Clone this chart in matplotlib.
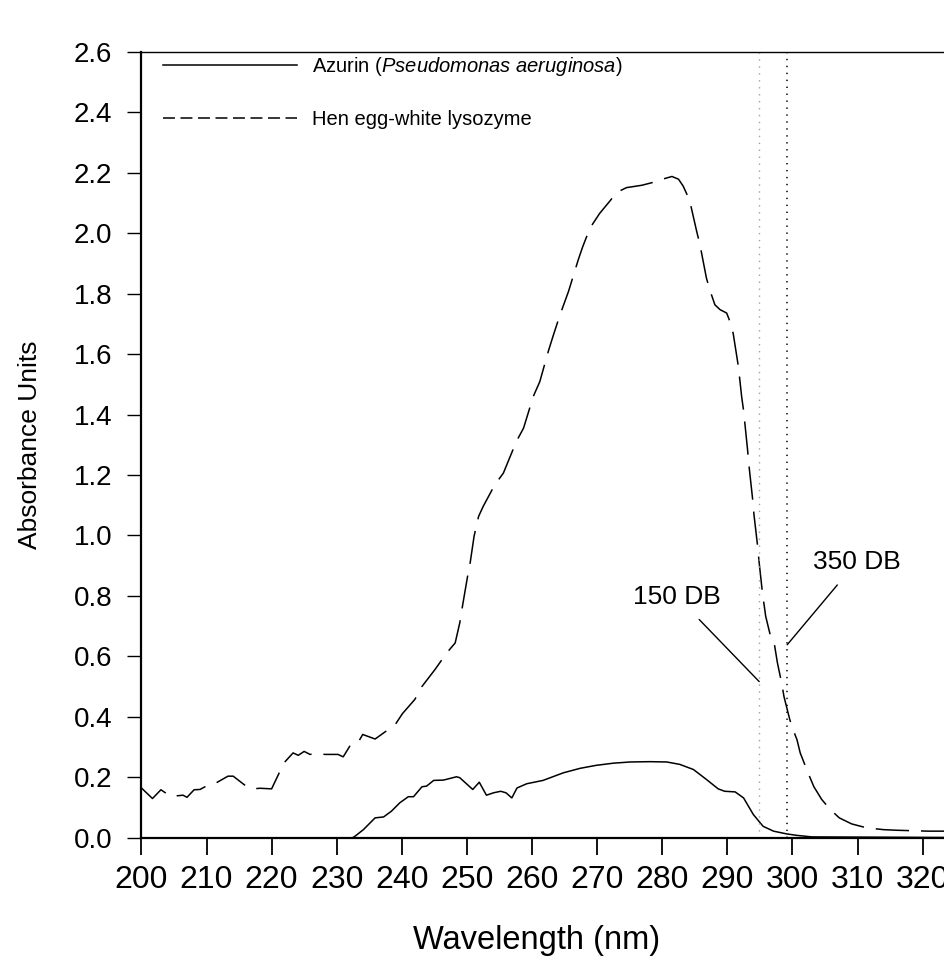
import matplotlib
matplotlib.use("Agg")
import matplotlib.pyplot as plt
from matplotlib.lines import Line2D
from matplotlib import font_manager

plt.rcParams['font.family'] = ['Liberation Sans', 'DejaVu Sans']
plt.rcParams['lines.scale_dashes'] = False

available = {f.name for f in font_manager.fontManager.ttflist}
narrow = 'Liberation Sans Narrow' if 'Liberation Sans Narrow' in available else 'Liberation Sans'
plt.rcParams['mathtext.fontset'] = 'custom'
plt.rcParams['mathtext.rm'] = narrow
plt.rcParams['mathtext.it'] = narrow + ':italic'

# ---- data ----
lys_wl = [200.0, 201.7, 203.0, 204.5, 206.4, 207.0, 208.1, 209.0, 210.3, 211.5, 213.3, 214.1,
          216.2, 217.2, 218.2, 220.0, 221.9, 223.3, 224.1, 225.0, 225.9, 226.9, 228.2, 230.2,
          231.0, 232.0, 233.1, 234.0, 235.9, 237.2, 239.0, 240.1, 242.0, 243.1, 245.1, 246.9,
          248.2, 248.9, 249.4, 250.1, 250.5, 251.1, 251.8, 252.5, 254.3, 255.6, 257.6, 258.7,
          260.2, 261.2, 262.5, 263.3, 264.3, 265.6, 267.1, 267.8, 268.9, 270.4, 271.9, 273.0,
          274.5, 276.9, 278.7, 280.2, 281.5, 282.5, 283.2, 284.2, 285.3, 285.8, 286.8, 287.4,
          288.1, 288.9, 289.9, 290.3, 290.9, 291.7, 292.2, 292.5, 293.1, 293.4, 293.9, 294.1,
          294.6, 294.9, 295.4, 295.9, 296.7, 297.2, 297.7, 298.4, 298.7, 299.6, 300.1, 300.7,
          301.2, 302.4, 303.3, 304.5, 305.8, 307.2, 309.1, 311.4, 314.0, 316.0, 320.9, 323.4]
lys_abs = [0.164, 0.129, 0.158, 0.136, 0.140, 0.133, 0.158, 0.159, 0.174, 0.181, 0.203, 0.203,
           0.168, 0.161, 0.163, 0.161, 0.247, 0.280, 0.272, 0.285, 0.275, 0.278, 0.275, 0.275,
           0.267, 0.302, 0.308, 0.341, 0.326, 0.346, 0.374, 0.410, 0.457, 0.500, 0.556, 0.611,
           0.644, 0.710, 0.776, 0.864, 0.909, 0.997, 1.063, 1.096, 1.168, 1.206, 1.311, 1.355,
           1.460, 1.509, 1.609, 1.664, 1.730, 1.807, 1.912, 1.956, 2.017, 2.066, 2.105, 2.135,
           2.151, 2.159, 2.169, 2.180, 2.188, 2.179, 2.157, 2.110, 2.006, 1.962, 1.851, 1.807,
           1.763, 1.747, 1.736, 1.714, 1.669, 1.559, 1.460, 1.413, 1.286, 1.217, 1.118, 1.068,
           0.975, 0.909, 0.809, 0.732, 0.661, 0.644, 0.578, 0.506, 0.467, 0.390, 0.357, 0.324,
           0.280, 0.214, 0.168, 0.126, 0.093, 0.065, 0.045, 0.032, 0.026, 0.024, 0.021, 0.021]

azu_wl = [232.5, 232.8, 234.1, 235.9, 237.2, 238.4, 239.7, 241.0, 241.8, 243.1, 243.8, 244.9,
          246.4, 248.4, 248.9, 250.9, 251.9, 253.0, 254.1, 255.2, 256.0, 256.9, 257.7, 259.2,
          261.7, 264.8, 267.4, 269.9, 272.5, 275.1, 278.1, 280.7, 282.7, 284.8, 286.8, 288.6,
          289.6, 291.2, 292.5, 294.0, 295.5, 297.1, 299.1, 300.7, 303.0, 323.4]
azu_abs = [0.0, 0.004, 0.026, 0.065, 0.068, 0.087, 0.115, 0.135, 0.135, 0.168, 0.170, 0.189,
           0.190, 0.201, 0.198, 0.159, 0.183, 0.140, 0.148, 0.153, 0.148, 0.131, 0.164, 0.178,
           0.189, 0.214, 0.229, 0.239, 0.246, 0.250, 0.251, 0.250, 0.242, 0.225, 0.192, 0.161,
           0.153, 0.151, 0.131, 0.076, 0.037, 0.021, 0.012, 0.007, 0.002, 0.0]

series_labels = ["Azurin ($\\it{Pseudomonas\\ aeruginosa}$)", "Hen egg-white lysozyme"]
cutoff_wl = [294.9, 299.2]
cutoff_labels = ["150 DB", "350 DB"]
cutoff_text_pos = [(282.3, 0.797), (309.9, 0.913)]
cutoff_ptr_pos = [(294.9, 0.516), (299.2, 0.638)]
x_ticks = list(range(200, 321, 10))
y_ticks = [i / 10 for i in range(0, 27, 2)]

# ---- figure ----
W, H = 945, 958
fig = plt.figure(figsize=(W / 100, H / 100), dpi=100)
ax_l, ax_r, ax_t, ax_b = 141.4, 945, 52, 837.5
ax = fig.add_axes([ax_l / W, 1 - ax_b / H, (ax_r - ax_l) / W, (ax_b - ax_t) / H])

ax.plot(azu_wl, azu_abs, color='black', lw=1.1, solid_joinstyle='round')
ax.plot(lys_wl, lys_abs, color='black', lw=1.1, dashes=(24, 8.6))

# cutoff lines
ax.axvline(cutoff_wl[0], color='#a0a0a0', lw=1.0, dashes=(1.0, 4.0))
ax.axvline(cutoff_wl[1], color='black', lw=1.1, dashes=(1.0, 4.0))

for lab, tp, pp in zip(cutoff_labels, cutoff_text_pos, cutoff_ptr_pos):
    ax.annotate(lab, xy=pp, xytext=tp, ha='center', va='center', fontsize=19,
                arrowprops=dict(arrowstyle='-', color='black', lw=1.0, shrinkA=8, shrinkB=0))

ax.set_xlim(200, 200 + (ax_r - ax_l) / 6.51)
ax.set_ylim(0, 2.6)
ax.set_xticks(x_ticks)
ax.set_yticks(y_ticks)
ax.set_yticklabels([f"{v:.1f}" for v in y_ticks])
ax.tick_params(axis='x', direction='out', length=12, width=1.3, pad=8, labelsize=23)
ax.tick_params(axis='y', direction='out', length=10, width=1.0, pad=11, labelsize=20)

ax.spines['right'].set_visible(False)
ax.spines['top'].set_linewidth(1.0)
ax.spines['left'].set_linewidth(1.6)
ax.spines['bottom'].set_linewidth(1.6)

ax.set_xlabel("Wavelength (nm)", fontsize=23.5)
ax.set_ylabel("Absorbance Units", fontsize=19)
ax.xaxis.set_label_coords((537 - ax_l) / (ax_r - ax_l), (ax_b - 940) / (ax_b - ax_t))
ax.xaxis.label.set_verticalalignment('center')
ax.yaxis.set_label_coords((30 - ax_l) / (ax_r - ax_l), 0.5)
ax.yaxis.label.set_verticalalignment('center')

handles = [Line2D([], [], color='black', lw=1.1),
           Line2D([], [], color='black', lw=1.1, dashes=(8.6, 4.0))]
leg_fs = 14.5
ax.legend(handles, series_labels, loc='upper left', frameon=False,
          prop={'family': narrow, 'size': leg_fs},
          handlelength=96.5 / leg_fs, handletextpad=10.8 / leg_fs, labelspacing=1.6, borderpad=0,
          borderaxespad=0, bbox_to_anchor=(163 / W, 1 - 55 / H), bbox_transform=fig.transFigure)

fig.savefig("out.png", dpi=100)
